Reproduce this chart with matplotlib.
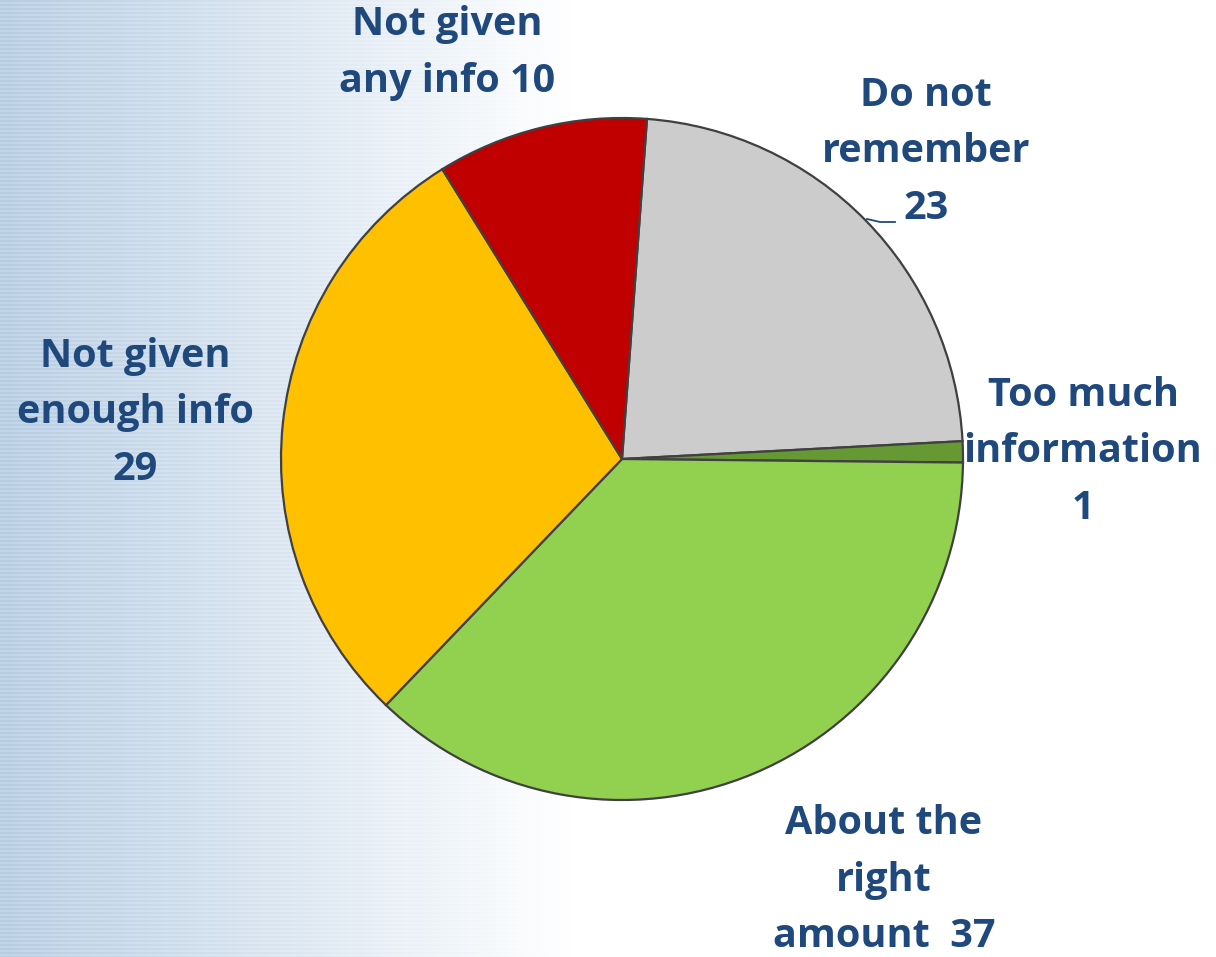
import numpy as np
import matplotlib.pyplot as plt

# chart data
labels = ["Do not\nremember\n23", "Too much\ninformation\n1", "About the\nright\namount  37",
          "Not given\nenough info\n29", "Not given\nany info 10"]
values = [23, 1, 37, 29, 10]
colors = ["#CCCCCC", "#669933", "#92D050", "#FFC000", "#C00000"]
label_pos = [(926, 805), (1083, 505), (884, 77), (135, 544), (447, 904)]

W, H = 1216, 957
text_color = "#1F497D"

fig = plt.figure(figsize=(W / 100, H / 100), dpi=100)
ax = fig.add_axes([0, 0, 1, 1])

# striped blue-to-white background
xs = np.arange(W)
t = np.clip(xs / 570.0, 0, 1)
left = np.array([0.76, 0.84, 0.92])
base = left[None, :] * (1 - t[:, None]) + t[:, None]
stripe = (np.arange(H) % 4 < 2).astype(float)
img = np.repeat(base[None, :, :], H, axis=0)
img = img - 0.04 * stripe[:, None, None] * (1 - t)[None, :, None]
ax.imshow(np.clip(img, 0, 1), extent=[0, W, 0, H], origin="upper", zorder=0, aspect="auto")

wedges, _ = ax.pie(values, colors=colors, startangle=85.8, counterclock=False,
                   center=(622, H - 459), radius=341,
                   wedgeprops=dict(edgecolor="#404040", linewidth=1.6))
for w in wedges:
    w.set_zorder(2)

for lab, (x, y) in zip(labels, label_pos):
    ax.text(x, y, lab, ha="center", va="center", fontsize=28.5, fontweight="bold",
            color=text_color, family="Open Sans", linespacing=1.58, zorder=3)

# leader line for "Do not remember"
ax.plot([867, 880, 895], [H - 219, H - 222, H - 222], color=text_color, lw=1.3, zorder=3)

ax.set_xlim(0, W)
ax.set_ylim(0, H)
ax.set_aspect("auto")
ax.axis("off")

fig.savefig("out.png", dpi=100)
